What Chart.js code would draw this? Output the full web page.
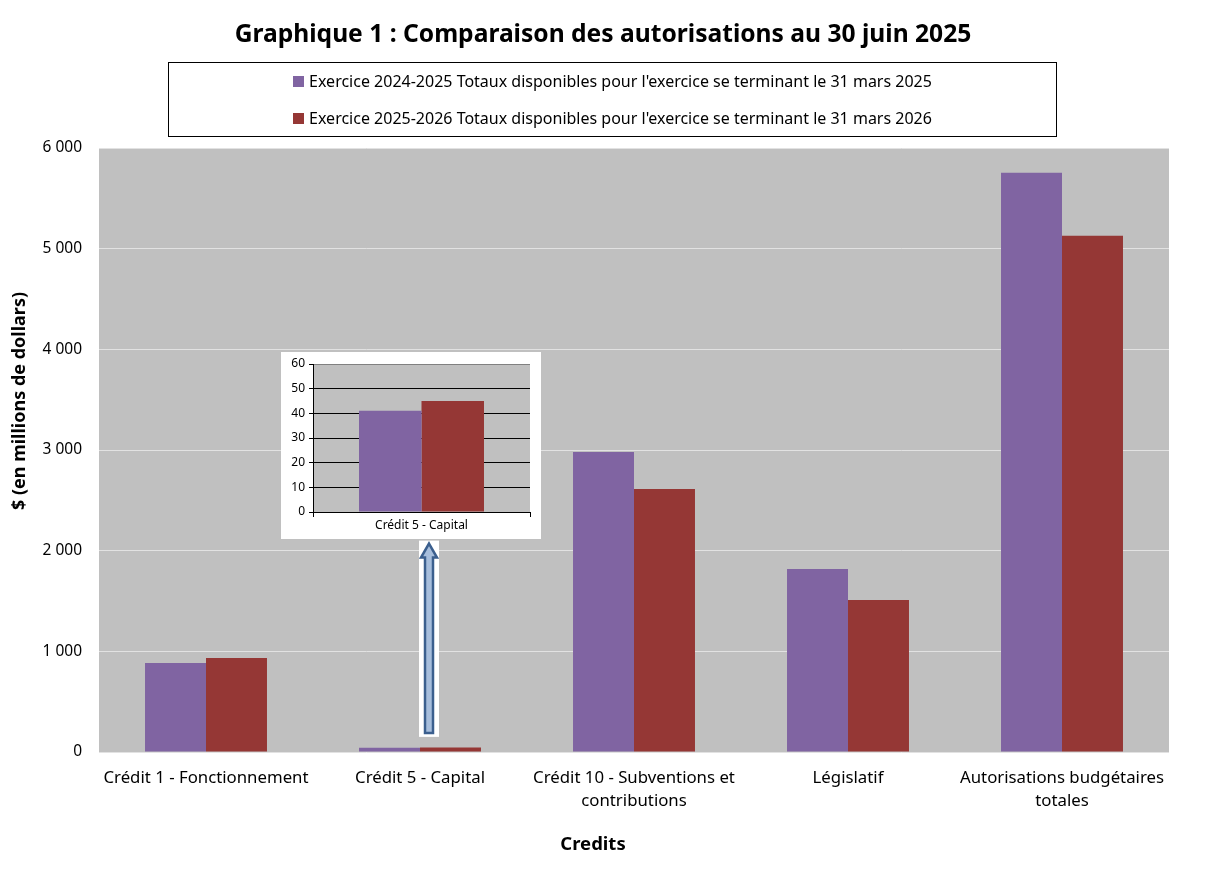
<!DOCTYPE html>
<html lang="fr">
<head>
<meta charset="utf-8">
<title>Graphique 1</title>
<script src="https://cdn.jsdelivr.net/npm/chart.js@4.4.1/dist/chart.umd.min.js"></script>
<style>
  body { margin: 0; background: #fff; font-family: "Noto Sans", sans-serif; }
  #wrap { position: relative; width: 1206px; height: 873px; }
  #main { position: absolute; left: 0; top: 0; }
  #title { position: absolute; left: 0; top: 16px; width: 1206px; text-align: center;
           font-weight: bold; font-size: 24.6px; line-height: 34px; color: #000; }
  #legend { position: absolute; left: 168px; top: 62px; width: 887px; height: 73px;
            border: 1px solid #000; display: flex; justify-content: center; align-items: center; }
  #legend ul { list-style: none; margin: 0; padding: 0; }
  #legend li { font-size: 16px; color: #000; line-height: 37px; display: flex; align-items: center; }
  #legend li span { display: inline-block; width: 11px; height: 11px; margin-right: 5px; }
  #inset { position: absolute; left: 281px; top: 352px; width: 260px; height: 187px; background: #fff; }
</style>
</head>
<body>
<div id="wrap">
  <canvas id="main" width="1206" height="873"></canvas>
  <div id="title">Graphique 1 : Comparaison des autorisations au 30 juin 2025</div>
  <div id="legend"><ul id="legend-list"></ul></div>
  <div id="inset"><canvas id="inset-chart" width="260" height="187"></canvas></div>
</div>
<script>
// Categories (multi-line labels) and the two fiscal-year series, $ millions
const categories = [
    ['Crédit 1 - Fonctionnement'],
    ['Crédit 5 - Capital'],
    ['Crédit 10 - Subventions et', 'contributions'],
    ['Législatif'],
    ['Autorisations budgétaires', 'totales']
];
const seriesNames = [
    "Exercice 2024-2025 Totaux disponibles pour l'exercice se terminant le 31 mars 2025",
    "Exercice 2025-2026 Totaux disponibles pour l'exercice se terminant le 31 mars 2026"
];
const values2024 = [885, 41, 2980, 1818, 5755];
const values2025 = [934, 45, 2613, 1510, 5128];
const colors = ['#8064A2', '#953735'];
const insetIndex = 1; // Crédit 5 - Capital gets the zoomed inset

const fmt = v => String(v).replace(/\B(?=(\d{3})+(?!\d))/g, ' ');
const font = 'Noto Sans';

// Legend box (HTML, built from the series)
document.getElementById('legend-list').innerHTML = seriesNames
    .map((name, i) => `<li><span style="background:${colors[i]}"></span>${name}</li>`)
    .join('');

// Gray plot background
const plotBg = {
    id: 'plotBg',
    beforeDraw(chart) {
        const { ctx, chartArea: a } = chart;
        ctx.save();
        ctx.fillStyle = '#C0C0C0';
        ctx.fillRect(a.left, a.top, a.right - a.left, a.bottom - a.top);
        ctx.restore();
    }
};

// Axis titles and the arrow pointing from the small bars to the inset
const extras = {
    id: 'extras',
    afterDraw(chart) {
        const { ctx, chartArea: a, scales } = chart;
        ctx.save();
        ctx.fillStyle = '#000';
        ctx.textAlign = 'center';
        ctx.textBaseline = 'middle';
        ctx.font = `bold 18.5px "${font}"`;
        ctx.fillText('Credits', 593, 845);
        ctx.translate(20, (a.top + a.bottom) / 2 - 49);
        ctx.rotate(-Math.PI / 2);
        ctx.font = `bold 18px "${font}"`;
        ctx.fillText('$ (en millions de dollars)', 0, 0);
        ctx.restore();

        const cx = scales.x.getPixelForValue(insetIndex) + 9;
        const yBot = scales.y.getPixelForValue(170);
        const yTop = scales.y.getPixelForValue(2070);
        ctx.save();
        ctx.fillStyle = '#fff';
        ctx.fillRect(cx - 10, yTop - 3, 20, yBot - yTop + 5);
        ctx.beginPath();
        ctx.moveTo(cx, yTop);
        ctx.lineTo(cx + 8, yTop + 14);
        ctx.lineTo(cx + 4, yTop + 14);
        ctx.lineTo(cx + 4, yBot - 2);
        ctx.lineTo(cx - 4, yBot - 2);
        ctx.lineTo(cx - 4, yTop + 14);
        ctx.lineTo(cx - 8, yTop + 14);
        ctx.closePath();
        ctx.fillStyle = '#A7BEDC';
        ctx.fill();
        ctx.lineWidth = 2.5;
        ctx.strokeStyle = '#3B5F8E';
        ctx.stroke();
        ctx.restore();
    }
};

new Chart(document.getElementById('main'), {
    type: 'bar',
    data: {
        labels: categories,
        datasets: [
            { label: seriesNames[0], data: values2024, backgroundColor: colors[0] },
            { label: seriesNames[1], data: values2025, backgroundColor: colors[1] }
        ]
    },
    options: {
        responsive: false,
        animation: false,
        devicePixelRatio: 1,
        layout: { padding: { top: 148, right: 37, left: 0, bottom: 0 } },
        datasets: { bar: { categoryPercentage: 0.57, barPercentage: 1 } },
        plugins: { legend: { display: false }, title: { display: false }, tooltip: { enabled: false } },
        scales: {
            x: {
                grid: { display: false },
                border: { display: false },
                ticks: { color: '#000', font: { family: font, size: 16.8, lineHeight: 1.37 }, padding: 7, maxRotation: 0 },
                afterFit(s) { s.height = 121; }
            },
            y: {
                min: 0, max: 6000,
                ticks: { stepSize: 1000, color: '#000', font: { family: font, size: 15.5 }, padding: 17,
                         callback: v => fmt(v) },
                grid: { color: '#E2E2E2', lineWidth: 1, drawTicks: false },
                border: { display: false },
                afterFit(s) { s.width = 99; }
            }
        }
    },
    plugins: [plotBg, extras]
});

// Inset: the same Crédit 5 values on a 0-60 scale
new Chart(document.getElementById('inset-chart'), {
    type: 'bar',
    data: {
        labels: [categories[insetIndex].join(' ')],
        datasets: [
            { data: [values2024[insetIndex]], backgroundColor: colors[0] },
            { data: [values2025[insetIndex]], backgroundColor: colors[1] }
        ]
    },
    options: {
        responsive: false,
        animation: false,
        devicePixelRatio: 1,
        layout: { padding: { top: 12, right: 11, left: 0, bottom: 0 } },
        datasets: { bar: { categoryPercentage: 0.576, barPercentage: 1 } },
        plugins: { legend: { display: false }, tooltip: { enabled: false } },
        scales: {
            x: {
                grid: { display: true, color: '#000', drawOnChartArea: false, tickLength: 5, offset: true },
                border: { display: true, color: '#000' },
                ticks: { color: '#000', font: { family: font, size: 12 }, padding: 1 },
                afterFit(s) { s.height = 27; }
            },
            y: {
                min: 0, max: 60,
                ticks: { stepSize: 10, color: '#000', font: { family: font, size: 12 }, padding: 4 },
                grid: { color: ctx => ctx.tick.value === 60 ? '#808080' : '#000', tickColor: '#000', tickLength: 4 },
                border: { display: true, color: '#000' },
                afterFit(s) { s.width = 32; }
            }
        }
    },
    plugins: [plotBg]
});
</script>
</body>
</html>
